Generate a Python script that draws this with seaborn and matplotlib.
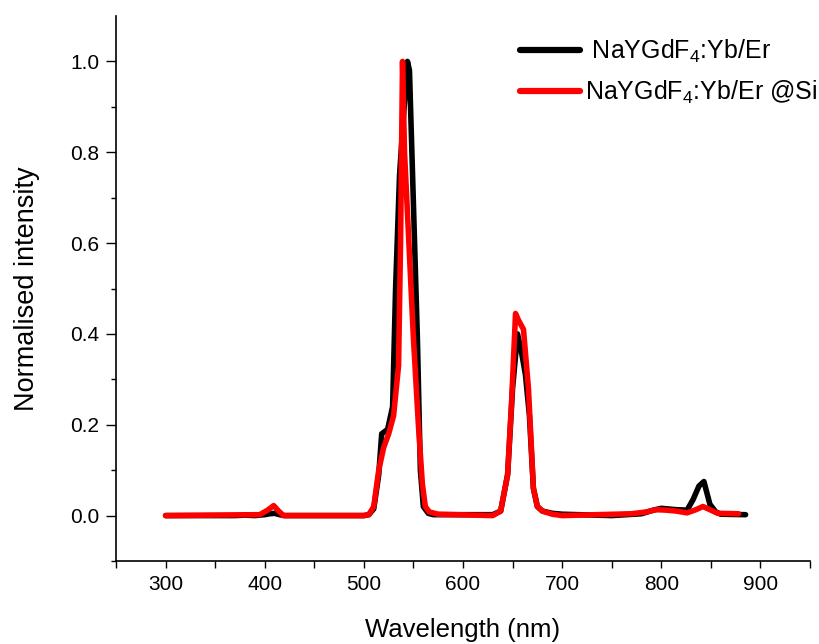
import numpy as np
import pandas as pd
import matplotlib
matplotlib.use("Agg")
import matplotlib.pyplot as plt
import seaborn as sns
from matplotlib.ticker import FixedLocator
from matplotlib.lines import Line2D

# ---------------- data ----------------
black_label = " NaYGdF$_4$:Yb/Er"
red_label = "NaYGdF$_4$:Yb/Er @Si"

black_wl = [300, 370, 380, 390, 400, 405, 410, 415, 420, 450, 500, 505, 510, 515,
            518, 524, 529, 532, 536, 540, 544, 546, 549, 554, 557, 560, 565, 570,
            600, 630, 638, 645, 650, 655, 659, 663, 667, 671, 675, 680, 690, 700,
            750, 780, 792, 800, 815, 826, 832, 838, 843, 849, 855, 860, 885]
black_int = [0.0, 0.0, 0.001, 0.0, 0.002, 0.004, 0.005, 0.002, 0.0, 0.0, 0.0, 0.002, 0.015, 0.09,
             0.18, 0.19, 0.24, 0.50, 0.75, 0.88, 1.0, 0.98, 0.76, 0.39, 0.10, 0.02, 0.005, 0.002,
             0.002, 0.002, 0.01, 0.09, 0.28, 0.40, 0.36, 0.31, 0.22, 0.06, 0.02, 0.01, 0.005, 0.003,
             0.0, 0.004, 0.012, 0.016, 0.013, 0.012, 0.035, 0.065, 0.075, 0.025, 0.008, 0.003, 0.002]

red_wl = [300, 395, 403, 409, 414, 419, 450, 500, 505, 510, 515, 520, 525, 530,
          535, 537, 539, 541, 545, 550, 555, 559, 562, 566, 575, 630, 638, 645,
          649, 653, 656, 661, 666, 671, 675, 680, 690, 700, 770, 785, 795, 805,
          815, 826, 835, 842, 850, 857, 878]
red_int = [0.0, 0.002, 0.012, 0.022, 0.01, 0.0, 0.0, 0.0, 0.002, 0.02, 0.10, 0.15, 0.18, 0.22,
           0.33, 0.60, 1.0, 0.80, 0.62, 0.39, 0.20, 0.07, 0.02, 0.008, 0.003, 0.0, 0.01, 0.09,
           0.25, 0.445, 0.43, 0.41, 0.28, 0.06, 0.02, 0.01, 0.003, 0.0, 0.004, 0.008, 0.013, 0.012,
           0.01, 0.006, 0.013, 0.02, 0.012, 0.005, 0.004]

x_major = [300, 400, 500, 600, 700, 800, 900]
x_minor = [250, 350, 450, 550, 650, 750, 850, 950]
y_major = [0.0, 0.2, 0.4, 0.6, 0.8, 1.0]
y_minor = [-0.1, 0.1, 0.3, 0.5, 0.7, 0.9]

df = pd.concat([
    pd.DataFrame({"wl": black_wl, "inten": black_int, "sample": black_label}),
    pd.DataFrame({"wl": red_wl, "inten": red_int, "sample": red_label}),
], ignore_index=True)

# ---------------- style ----------------
sns.set_style("ticks")
plt.rcParams["font.family"] = ["Liberation Sans", "DejaVu Sans"]
plt.rcParams["mathtext.fontset"] = "custom"
plt.rcParams["mathtext.rm"] = "Liberation Sans"
plt.rcParams["mathtext.it"] = "Liberation Sans:italic"
plt.rcParams["mathtext.bf"] = "Liberation Sans:bold"
plt.rcParams["text.color"] = "black"
plt.rcParams["axes.labelcolor"] = "black"

fig = plt.figure(figsize=(8.2, 6.44), dpi=100)
ax = fig.add_axes([116 / 820, 83 / 644, (810 - 116) / 820, 545 / 644])

sns.lineplot(data=df, x="wl", y="inten", hue="sample", sort=False, estimator=None,
             palette={black_label: "black", red_label: "#ff0000"}, linewidth=4.0,
             ax=ax, legend=False)

ax.set_xlim(250, 950)
ax.set_ylim(-0.1, 1.1)
ax.xaxis.set_major_locator(FixedLocator(x_major))
ax.xaxis.set_minor_locator(FixedLocator(x_minor))
ax.yaxis.set_major_locator(FixedLocator(y_major))
ax.yaxis.set_minor_locator(FixedLocator(y_minor))
ax.set_xticklabels([str(v) for v in x_major])
ax.set_yticklabels([f"{v:.1f}" for v in y_major])

ax.tick_params(axis="both", which="major", labelsize=15, color="black", labelcolor="black", width=1.0)
ax.tick_params(axis="y", which="major", length=7, pad=5)
ax.tick_params(axis="y", which="minor", length=3.5, width=1.0, color="black")
ax.tick_params(axis="x", which="major", length=5, pad=5)
ax.tick_params(axis="x", which="minor", length=5, width=1.0, color="black")

for s in ["top", "right"]:
    ax.spines[s].set_visible(False)
for s in ["left", "bottom"]:
    ax.spines[s].set_color("black")
    ax.spines[s].set_linewidth(1.2)

ax.set_xlabel("Wavelength (nm)", fontsize=18.5, labelpad=17)
ax.set_ylabel("Normalised intensity", fontsize=19.5, labelpad=22)

handles = [Line2D([], [], color="black", lw=4.5), Line2D([], [], color="#ff0000", lw=4.5)]
leg = fig.legend(handles, [black_label, red_label], loc="upper left",
                 bbox_to_anchor=(520 / 820, 1 - 38 / 644), frameon=False, fontsize=18,
                 handlelength=2.4, handletextpad=0.2, labelspacing=0.55,
                 borderpad=0, borderaxespad=0)

fig.savefig("out.png", dpi=100)
